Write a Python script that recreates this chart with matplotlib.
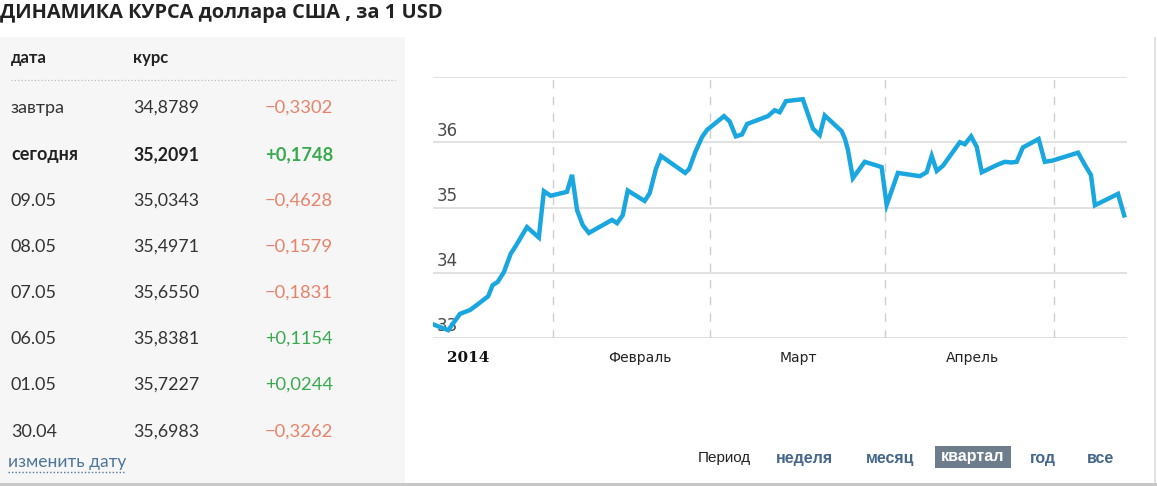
import matplotlib
matplotlib.use("Agg")
import matplotlib.pyplot as plt
from matplotlib.patches import Rectangle

# USD/RUB rate, day of year 2014 (Jan 1 = 0) and value
days = [9.7, 12.4, 14.5, 16.3, 17.7, 19.5, 20.3, 21.2, 22.3, 23.5, 24.4, 26.4,
        28.5, 29.4, 30.6, 33.5, 34.4, 35.3, 36.3, 37.4, 41.5, 42.4, 43.4, 44.3,
        47.3, 48.2, 49.3, 50.2, 54.5, 55.2, 56.3, 57.5, 58.4, 61.4, 62.4, 63.5,
        64.6, 65.5, 69.2, 70.4, 71.3, 72.4, 75.4, 77.2, 78.4, 79.3, 82.3, 82.9,
        83.4, 84.3, 86.4, 89.4, 90.3, 92.3, 96.2, 97.4, 98.3, 99.2, 100.3, 103.3,
        104.2, 105.3, 106.3, 107.2, 110.1, 111.3, 112.5, 113.4, 114.5, 117.3,
        118.4, 119.8, 124.3, 125.5, 126.6, 127.3, 131.4, 132.5]
rates = [33.21, 33.12, 33.37, 33.43, 33.52, 33.64, 33.81, 33.86, 34.01, 34.29, 34.41, 34.70,
         34.54, 35.25, 35.18, 35.24, 35.50, 34.96, 34.73, 34.61, 34.81, 34.76, 34.88, 35.26,
         35.10, 35.22, 35.59, 35.79, 35.53, 35.59, 35.85, 36.08, 36.19, 36.40, 36.32, 36.09,
         36.12, 36.28, 36.40, 36.49, 36.46, 36.63, 36.66, 36.21, 36.11, 36.41, 36.17, 36.05,
         35.89, 35.45, 35.70, 35.62, 35.04, 35.53, 35.48, 35.54, 35.79, 35.56, 35.64, 36.00,
         35.97, 36.09, 35.93, 35.54, 35.66, 35.70, 35.69, 35.70, 35.92, 36.05,
         35.70, 35.72, 35.84, 35.655, 35.497, 35.034, 35.209, 34.879]

month_starts = [31, 59, 90, 120]
month_labels = ["2014", "Февраль", "Март", "Апрель"]
month_label_pos = [15.9, 46.5, 74.6, 105.5]
y_ticks = [33, 34, 35, 36]

title = "ДИНАМИКА КУРСА доллара США , за 1 USD"
table_dates = ["завтра", "сегодня", "09.05", "08.05", "07.05", "06.05", "01.05", "30.04"]
table_rates = ["34,8789", "35,2091", "35,0343", "35,4971", "35,6550", "35,8381", "35,7227", "35,6983"]
table_changes = ["−0,3302", "+0,1748", "−0,4628", "−0,1579", "−0,1831", "+0,1154", "+0,0244", "−0,3262"]
periods = ["неделя", "месяц", "квартал", "год", "все"]
period_x = [804, 890, 973, 1043, 1101]

W, H = 1157, 486
fig = plt.figure(figsize=(W / 100, H / 100), dpi=100)
fig.patch.set_facecolor("white")


def fx(x):
    return x / W


def fy(y):
    return 1 - y / H


# left panel background, borders
fig.patches.append(Rectangle((0, fy(483)), fx(405), fy(37) - fy(483),
                             transform=fig.transFigure, facecolor="#f6f6f6",
                             edgecolor="none", zorder=0))
fig.patches.append(Rectangle((0, fy(486)), 1, fy(483) - fy(486),
                             transform=fig.transFigure, facecolor="#c8c8c8",
                             edgecolor="none", zorder=0))
fig.patches.append(Rectangle((fx(1154), fy(483)), fx(2), fy(37) - fy(483),
                             transform=fig.transFigure, facecolor="#e2e2e2",
                             edgecolor="none", zorder=0))

fig.text(fx(0), fy(18), title, fontsize=14.4, fontweight="bold", family="Open Sans",
         color="#222222", va="baseline", ha="left")

# table
fig.text(fx(11), fy(63), "дата", fontsize=12, fontweight="bold", family="Lato", color="#222222", va="baseline")
fig.text(fx(133), fy(63), "курс", fontsize=12, fontweight="bold", family="Lato", color="#222222", va="baseline")
fig.add_artist(plt.Line2D([fx(11), fx(395)], [fy(80), fy(80)], transform=fig.transFigure,
                          color="#b5b5b5", lw=0.8, ls=(0, (1, 2))))

row_y = [113, 160, 206, 252, 298, 344, 390, 437]
for i in range(len(table_dates)):
    wt = "bold" if i == 1 else "normal"
    col = "#222222" if i == 1 else "#333333"
    fig.text(fx(11), fy(row_y[i]), table_dates[i], fontsize=13, fontweight=wt, family="Lato",
             color=col, va="baseline")
    fig.text(fx(133), fy(row_y[i]), table_rates[i], fontsize=12.8, fontweight=wt, family="Lato",
             color=col, va="baseline")
    ccol = "#e9826a" if table_changes[i].startswith("−") else "#3aaa4f"
    fig.text(fx(265), fy(row_y[i]), table_changes[i], fontsize=13.2, fontweight=wt, family="Lato",
             color=ccol, va="baseline")

fig.text(fx(8), fy(467), "изменить дату", fontsize=12.5, family="Lato", color="#4f7599", va="baseline")
fig.add_artist(plt.Line2D([fx(8), fx(126)], [fy(472), fy(472)], transform=fig.transFigure,
                          color="#4f7599", lw=1, ls=(0, (1, 1.5))))

# chart
ax = fig.add_axes([fx(433), fy(338), fx(1127) - fx(433), fy(77) - fy(338)])
ax.set_xlim(9.7, 133)
ax.set_ylim(33, 37)
for v in [33, 34, 35, 36, 37]:
    ax.axhline(v, color="#dcdcdc", lw=1.2, zorder=1)
for m in month_starts:
    ax.axvline(m, color="#cfcfcf", lw=1, ls=(0, (6, 6)), zorder=1)
ax.plot(days, rates, color="#1aa7df", lw=3.2, solid_joinstyle="miter", zorder=3, clip_on=True)
for v in y_ticks:
    ax.text(10.4, v + 0.04, str(v), fontsize=12, color="#4a4a4a", va="bottom", ha="left", zorder=2)
for i, lab in enumerate(month_labels):
    if i == 0:
        ax.text(month_label_pos[i], 32.7, lab, fontsize=11, family="DejaVu Serif", fontweight="bold",
                color="#111111", ha="center", va="center")
    else:
        ax.text(month_label_pos[i], 32.7, lab, fontsize=10, color="#222222", ha="center", va="center")
ax.set_xticks([])
ax.set_yticks([])
for s in ax.spines.values():
    s.set_visible(False)
ax.patch.set_alpha(0)

# period selector
fig.text(fx(724), fy(458), "Период", fontsize=11, family="Liberation Sans", color="#222222",
         ha="center", va="center")
for i, p in enumerate(periods):
    if p == "квартал":
        fig.patches.append(Rectangle((fx(935), fy(468)), fx(1011) - fx(935), fy(446) - fy(468),
                                     transform=fig.transFigure, facecolor="#6d7d8c",
                                     edgecolor="none", zorder=1))
        fig.text(fx(period_x[i]), fy(456), p, fontsize=11.5, fontweight="bold",
                 family="Liberation Sans", color="white", ha="center", va="center", zorder=2)
    else:
        fig.text(fx(period_x[i]), fy(458), p, fontsize=11.5, fontweight="bold",
                 family="Liberation Sans", color="#456789", ha="center", va="center")

fig.savefig("out.png", dpi=100)
